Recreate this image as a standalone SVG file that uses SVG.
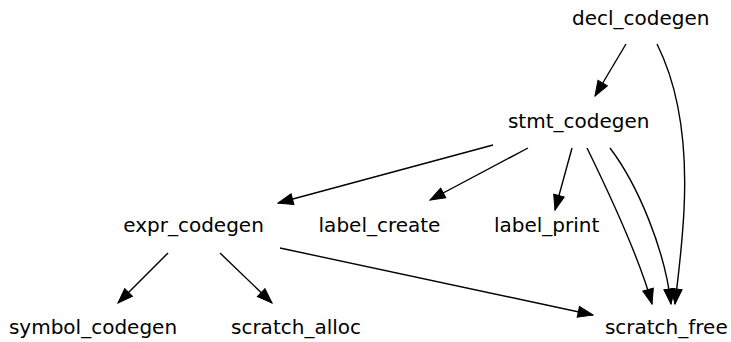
<svg xmlns="http://www.w3.org/2000/svg" width="731" height="342" viewBox="0 0 731 342">
<style>
text{font-family:"DejaVu Sans",sans-serif;font-size:20px;fill:#000;text-anchor:middle}
.e{fill:none;stroke:#000;stroke-width:1.4;marker-end:url(#a)}
</style>
<defs>
<marker id="a" markerUnits="userSpaceOnUse" markerWidth="17" markerHeight="13" refX="16" refY="6.5" orient="auto" viewBox="0 0 17 13">
<path d="M1,1 L16,6.5 L1,12 Z" fill="#000" stroke="#000" stroke-width="1"/>
</marker>
</defs>
<rect width="731" height="342" fill="#fff"/>
<g id="connectors">
<path class="e" d="M626,44 L595,96"/>
<path class="e" d="M657,44 C680,90 687,150 684,210 C682,250 677,285 675,304"/>
<path class="e" d="M493,145 L278,203"/>
<path class="e" d="M528,148 L430,200"/>
<path class="e" d="M572,148 L555,210"/>
<path class="e" d="M587,148 C610,195 640,260 652,304"/>
<path class="e" d="M610,148 C638,185 665,250 671,304"/>
<path class="e" d="M168,253 L118,303"/>
<path class="e" d="M220,253 L272,303"/>
<path class="e" d="M280,248 L593,315"/>
</g>
<g id="decl_codegen"><text x="640.8" y="24.5">decl_codegen</text></g>
<g id="stmt_codegen"><text x="578.7" y="128.3">stmt_codegen</text></g>
<g id="expr_codegen"><text x="193.5" y="231.7">expr_codegen</text></g>
<g id="label_create"><text x="379.5" y="231.7">label_create</text></g>
<g id="label_print"><text x="546.7" y="231.7">label_print</text></g>
<g id="symbol_codegen"><text x="93" y="333.5">symbol_codegen</text></g>
<g id="scratch_alloc"><text x="296" y="333.5">scratch_alloc</text></g>
<g id="scratch_free"><text x="666.3" y="333.5">scratch_free</text></g>
</svg>
